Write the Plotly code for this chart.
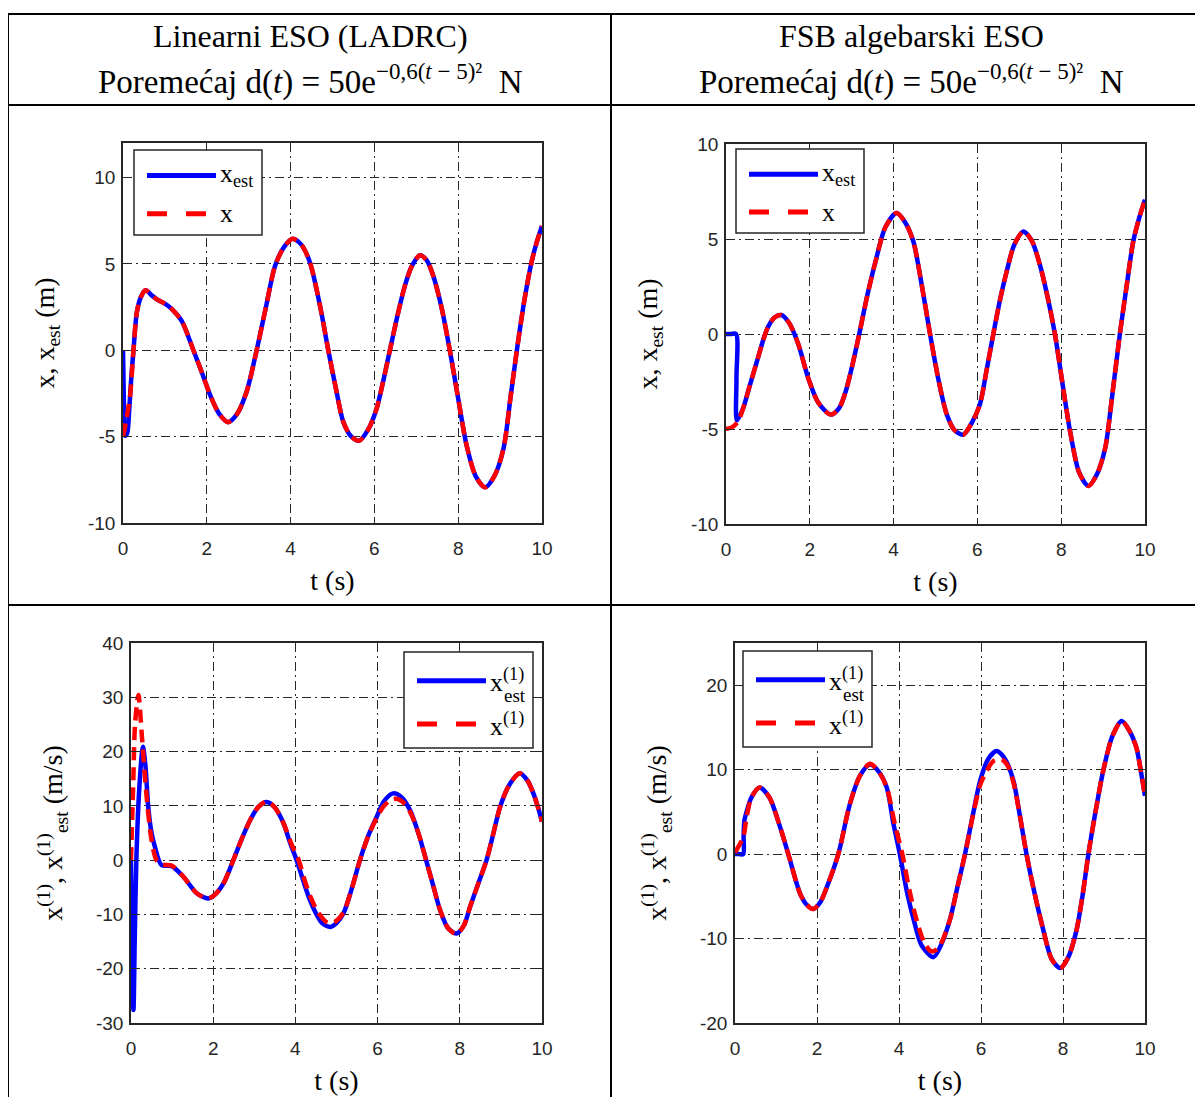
import plotly.graph_objects as go

W, H = 1203, 1097
OFF = 8  # the page body has an 8px margin; figure is placed at (8, 8)

# ---------------- data ----------------
# Top-left: LADRC position
t_tl = [0, 0.08, 0.17, 0.25, 0.33, 0.43, 0.54, 0.7, 0.84, 1.0, 1.16, 1.4, 1.68, 1.9, 2.08, 2.3,
        2.51, 2.72, 2.95, 3.19, 3.42, 3.63, 3.85, 4.05, 4.26, 4.46, 4.7, 4.9, 5.08, 5.26, 5.45,
        5.64, 5.85, 6.05, 6.2, 6.37, 6.55, 6.73, 6.9, 7.09, 7.25, 7.4, 7.6, 7.8, 8.0, 8.2, 8.42,
        8.64, 8.86, 9.08, 9.25, 9.4, 9.58, 9.75, 9.88, 10.0]
x_tl = [-5.0, -4.0, -2.6, 0.0, 2.2, 3.1, 3.47, 3.15, 2.9, 2.7, 2.4, 1.7, 0.0, -1.4, -2.6, -3.7,
        -4.16, -3.7, -2.4, 0.0, 2.6, 4.9, 6.0, 6.46, 6.1, 5.1, 2.6, 0.0, -2.2, -4.16, -5.0,
        -5.23, -4.6, -3.4, -1.9, 0.0, 2.0, 3.76, 4.9, 5.5, 5.2, 4.34, 2.5, 0.0, -2.8, -5.5, -7.3,
        -7.93, -7.3, -5.7, -2.7, 0.0, 2.9, 5.1, 6.3, 7.2]
t_tl_est_head = [0, 0.02, 0.05, 0.1, 0.15, 0.2]
x_tl_est_head = [0.0, -2.8, -4.95, -4.8, -3.4, -1.5]
t_tl_est = t_tl_est_head + t_tl[3:]
x_tl_est = x_tl_est_head + x_tl[3:]

# Top-right: FSB algebraic ESO position
t_tr = [0, 0.15, 0.29, 0.41, 0.53, 0.65, 0.77, 0.89, 1.0, 1.15, 1.32, 1.5, 1.72, 1.96, 2.2,
        2.5, 2.7, 2.86, 3.02, 3.18, 3.38, 3.59, 3.8, 4.07, 4.27, 4.47, 4.67, 4.87, 5.07, 5.27,
        5.45, 5.66, 5.86, 6.06, 6.22, 6.38, 6.54, 6.7, 6.88, 7.1, 7.3, 7.49, 7.67, 7.85, 8.03,
        8.21, 8.43, 8.65, 8.85, 9.05, 9.22, 9.4, 9.56, 9.72, 9.86, 10.0]
x_tr = [-5.0, -4.9, -4.6, -3.9, -3.0, -2.1, -1.2, -0.3, 0.35, 0.85, 1.0, 0.6, -0.5, -2.3, -3.6,
        -4.24, -3.9, -3.0, -1.6, 0.0, 2.1, 4.0, 5.6, 6.37, 5.9, 4.88, 2.6, 0.0, -2.4, -4.24,
        -5.05, -5.3, -4.7, -3.7, -1.9, 0.0, 1.8, 3.3, 4.7, 5.4, 4.9, 3.65, 2.0, 0.0, -2.6,
        -5.1, -7.3, -8.0, -7.4, -6.0, -3.2, 0.0, 2.5, 4.88, 6.1, 7.07]
t_tr_est_head = [0, 0.12, 0.24, 0.25, 0.26]
x_tr_est_head = [0.0, 0.0, 0.0, -2.3, -4.55]
t_tr_est = t_tr_est_head + t_tr[3:]
x_tr_est = x_tr_est_head + x_tr[3:]

# Bottom-left: LADRC velocity
t_bl = [0, 0.05, 0.1, 0.18, 0.26, 0.38, 0.5, 0.62, 0.75, 0.99, 1.28, 1.6, 1.88, 2.05, 2.25,
        2.49, 2.7, 2.9, 3.1, 3.3, 3.5, 3.71, 3.9, 4.08, 4.22, 4.38, 4.55, 4.78, 4.95, 5.17,
        5.37, 5.57, 5.78, 5.98, 6.14, 6.3, 6.45, 6.6, 6.79, 7.0, 7.18, 7.35, 7.52, 7.72, 7.92,
        8.1, 8.25, 8.45, 8.65, 8.82, 8.98, 9.2, 9.46, 9.65, 9.79, 9.9, 10.0]
v_bl = [0.0, 12.9, 25.2, 30.4, 23.3, 11.7, 3.7, 0.0, -0.8, -1.0, -3.1, -6.1, -7.05, -6.3, -4.3,
        0.0, 4.0, 7.4, 9.8, 10.8, 9.7, 6.8, 3.0, 0.0, -3.6, -7.0, -9.6, -11.5, -11.4, -9.6,
        -5.3, 0.0, 4.6, 7.8, 9.85, 11.0, 11.3, 10.8, 8.9, 4.8, 0.0, -4.6, -9.2, -12.6, -13.6,
        -12.0, -8.6, -4.3, 0.0, 5.0, 9.8, 13.8, 16.0, 14.6, 12.3, 9.8, 7.1]
t_bl_est = [0, 0.03, 0.06, 0.09, 0.13, 0.2, 0.29, 0.35, 0.42, 0.5, 0.58, 0.74, 0.99, 1.28, 1.6,
            1.88, 2.05, 2.25, 2.49, 2.7, 2.9, 3.1, 3.3, 3.5, 3.71, 3.87, 4.03, 4.2, 4.35, 4.5,
            4.65, 4.85, 5.0, 5.17, 5.37, 5.57, 5.78, 5.98, 6.15, 6.38, 6.58, 6.79, 7.0, 7.18,
            7.35, 7.52, 7.72, 7.92, 8.1, 8.25, 8.45, 8.65, 8.82, 8.98, 9.2, 9.46, 9.65, 9.79,
            9.9, 10.0]
v_bl_est = [0.0, -20.0, -27.6, -15.0, 0.0, 13.0, 20.9, 17.5, 9.8, 5.0, 2.5, -0.9, -1.1, -3.1,
            -6.1, -7.05, -6.3, -4.3, 0.0, 4.0, 7.4, 9.8, 10.7, 9.7, 6.8, 3.2, 0.0, -4.0, -7.3,
            -9.8, -11.6, -12.3, -11.6, -9.8, -5.3, 0.0, 4.6, 8.0, 10.8, 12.3, 11.6, 9.2, 4.8,
            0.0, -4.6, -9.2, -12.6, -13.5, -12.0, -8.6, -4.3, 0.0, 5.0, 9.8, 13.8, 16.0, 14.6,
            12.3, 9.8, 7.1]

# Bottom-right: FSB algebraic ESO velocity
t_br = [0, 0.2, 0.28, 0.4, 0.6, 0.84, 1.1, 1.3, 1.59, 1.75, 1.91, 2.08, 2.24, 2.52, 2.8, 3.05,
        3.29, 3.5, 3.7, 3.9, 4.08, 4.25, 4.4, 4.6, 4.78, 4.95, 5.24, 5.42, 5.61, 5.8, 5.98,
        6.14, 6.3, 6.5, 6.65, 6.79, 6.95, 7.11, 7.3, 7.52, 7.72, 7.93, 8.13, 8.33, 8.48, 8.62,
        8.8, 8.98, 9.2, 9.43, 9.62, 9.79, 9.9, 10.0]
v_br = [0.2, 2.0, 4.3, 6.7, 7.9, 6.7, 3.2, 0.0, -4.7, -6.0, -6.5, -5.7, -3.9, 0.0, 5.9, 9.3,
        10.7, 9.8, 7.9, 3.5, 0.0, -4.2, -7.3, -10.3, -11.5, -11.2, -7.8, -4.0, 0.0, 4.5, 8.2,
        9.85, 11.0, 11.2, 10.5, 8.5, 4.5, 0.0, -4.5, -9.0, -12.4, -13.5, -12.2, -9.0, -4.8, 0.0,
        5.2, 9.85, 13.9, 15.75, 14.6, 12.6, 9.8, 6.9]
t_br_est = [0, 0.1, 0.2, 0.21, 0.23, 0.3, 0.4, 0.6, 0.84, 1.1, 1.3, 1.59, 1.75, 1.91, 2.08,
            2.24, 2.52, 2.8, 3.05, 3.29, 3.5, 3.7, 3.86, 4.02, 4.2, 4.35, 4.55, 4.84, 5.04,
            5.24, 5.42, 5.61, 5.8, 5.98, 6.18, 6.38, 6.58, 6.79, 6.95, 7.11, 7.3, 7.52, 7.72,
            7.93, 8.13, 8.33, 8.48, 8.62, 8.8, 8.98, 9.2, 9.43, 9.62, 9.79, 9.9, 10.0]
v_br_est = [0.0, 0.0, 0.0, 2.0, 4.0, 5.3, 6.7, 7.9, 6.7, 3.2, 0.0, -4.7, -6.0, -6.5, -5.7,
            -3.9, 0.0, 5.9, 9.3, 10.6, 9.8, 7.9, 3.7, 0.0, -4.6, -7.6, -10.8, -12.2, -10.6,
            -7.8, -4.0, 0.0, 4.6, 8.7, 11.3, 12.2, 11.3, 8.7, 4.5, 0.0, -4.5, -9.0, -12.4,
            -13.5, -12.2, -9.0, -4.8, 0.0, 5.2, 9.85, 13.9, 15.75, 14.6, 12.6, 9.8, 6.9]

# Tick values / labels
x_tickvals = [0, 2, 4, 6, 8, 10]
y_tickvals_tl = [-10, -5, 0, 5, 10]
y_tickvals_tr = [-10, -5, 0, 5, 10]
y_tickvals_bl = [-30, -20, -10, 0, 10, 20, 30, 40]
y_tickvals_br = [-20, -10, 0, 10, 20]

# Text
header_titles = ["Linearni ESO (LADRC)", "FSB algebarski ESO"]
header_dist = ("Poremećaj d(<i>t</i>) = 50e<sup><span style='font-size:23px'>"
               "−0,6(<i>t</i> − 5)²</span></sup>  N")
x_title = "t (s)"
y_titles = ["x, x<sub>est</sub> (m)",
            "x<sup>(1)</sup>, x<sup>(1)</sup><sub>est</sub> (m/s)"]
# legend label: (main text, stacked subscript or None)
legend_labels = [(("x<sub>est</sub>", None), ("x", None)),
                 (("x<sup>(1)</sup>", "est"), ("x<sup>(1)</sup>", None))]

# ---------------- layout helpers ----------------
FW, FH = W - OFF, H - OFF


def PX(px):
    return (px - OFF) / FW


def PY(py):
    return 1 - (py - OFF) / FH


SERIF = "Liberation Serif"
SANS = "Liberation Sans"
BLUE = "#0000FF"
RED = "#FF0000"
AX = "#262626"

# panel pixel boxes: (x0, x1, y_top, y_bottom), y-range, ticks
panels = [
    dict(box=(123, 542, 143, 523), yr=[-10, 12], tv=y_tickvals_tl),
    dict(box=(726, 1145, 144, 524), yr=[-10, 10], tv=y_tickvals_tr),
    dict(box=(131, 542, 643, 1023), yr=[-30, 40], tv=y_tickvals_bl),
    dict(box=(735, 1145, 643, 1023), yr=[-20, 25], tv=y_tickvals_br),
]
series = [
    (t_tl_est, x_tl_est, t_tl, x_tl),
    (t_tr_est, x_tr_est, t_tr, x_tr),
    (t_bl_est, v_bl_est, t_bl, v_bl),
    (t_br_est, v_br_est, t_br, v_br),
]
# legend boxes in px: (x0, x1, y0, y1)
legend_boxes = [(134, 262, 150, 235), (736, 864, 149, 233),
                (404, 533, 652, 748), (743, 872, 651, 747)]

fig = go.Figure()
layout_axes = {}
shapes = []
annotations = []

for i, (p, s) in enumerate(zip(panels, series)):
    n = i + 1
    xa = "xaxis" if n == 1 else f"xaxis{n}"
    ya = "yaxis" if n == 1 else f"yaxis{n}"
    xr = "x" if n == 1 else f"x{n}"
    yr = "y" if n == 1 else f"y{n}"
    x0, x1, yt, yb = p["box"]
    common = dict(
        showline=True, linecolor=AX, linewidth=1.5, mirror="ticks",
        ticks="inside", ticklen=6, tickwidth=1.2, tickcolor=AX,
        showgrid=True, gridcolor="#262626", gridwidth=1, griddash="9px,4px,2px,4px",
        zeroline=False, tickfont=dict(family=SANS, size=19, color=AX),
        automargin=False,
    )
    layout_axes[xa] = dict(common, domain=[PX(x0), PX(x1)], range=[0, 10],
                           tickvals=x_tickvals, ticktext=[str(v) for v in x_tickvals],
                           anchor=yr, ticklabelstandoff=7,
                           title=dict(text=x_title, font=dict(family=SERIF, size=28, color="black"),
                                      standoff=13))
    layout_axes[ya] = dict(common, domain=[PY(yb), PY(yt)], range=p["yr"],
                           tickvals=p["tv"], ticktext=[str(v) for v in p["tv"]], anchor=xr,
                           ticklabelstandoff=2,
                           title=dict(text=y_titles[i // 2],
                                      font=dict(family=SERIF, size=28, color="black"),
                                      standoff=25))
    te, ve, tt, vt = s
    fig.add_trace(go.Scatter(x=te, y=ve, mode="lines", xaxis=xr, yaxis=yr, showlegend=False,
                             line=dict(color=BLUE, width=4.5, shape="spline", smoothing=0.8)))
    fig.add_trace(go.Scatter(x=tt, y=vt, mode="lines", xaxis=xr, yaxis=yr, showlegend=False,
                             line=dict(color=RED, width=4.5, dash="13px,7px",
                                       shape="spline", smoothing=0.8)))

    # legend (box, sample lines, labels)
    lx0, lx1, ly0, ly1 = legend_boxes[i]
    shapes.append(dict(type="rect", xref="paper", yref="paper", x0=PX(lx0), x1=PX(lx1),
                       y0=PY(ly1), y1=PY(ly0), fillcolor="white",
                       line=dict(color=AX, width=1.5), layer="above"))
    row1 = ly0 + (ly1 - ly0) * 0.30
    row2 = ly0 + (ly1 - ly0) * 0.75
    for row, col, dash, lab in ((row1, BLUE, "solid", legend_labels[i // 2][0]),
                                (row2, RED, "20px,19px", legend_labels[i // 2][1])):
        shapes.append(dict(type="line", xref="paper", yref="paper",
                           x0=PX(lx0 + 13), x1=PX(lx0 + 82), y0=PY(row), y1=PY(row),
                           line=dict(color=col, width=5, dash=dash), layer="above"))
        main, stacked = lab
        annotations.append(dict(xref="paper", yref="paper", x=PX(lx0 + 84), y=PY(row),
                                xanchor="left", yanchor="middle", showarrow=False, text=main,
                                font=dict(family=SERIF, size=26, color="black")))
        if stacked:
            annotations.append(dict(xref="paper", yref="paper", x=PX(lx0 + 98), y=PY(row + 15),
                                    xanchor="left", yanchor="middle", showarrow=False,
                                    text=stacked,
                                    font=dict(family=SERIF, size=19, color="black")))

# table grid lines
LW = 2
for (a, b, c, d) in [(8, 14, 1202, 14), (8, 105, 1202, 105), (8, 605, 1202, 605),
                     (8, 14, 8, 1097), (611, 14, 611, 1097), (1202, 14, 1202, 1097)]:
    shapes.append(dict(type="line", xref="paper", yref="paper", x0=PX(a), y0=PY(b),
                       x1=PX(c), y1=PY(d), line=dict(color="black", width=LW)))

# headers
for cx, title in zip([310, 911], header_titles):
    annotations.append(dict(xref="paper", yref="paper", x=PX(cx), y=PY(36), showarrow=False,
                            xanchor="center", yanchor="middle", text=title,
                            font=dict(family=SERIF, size=32, color="black")))
    annotations.append(dict(xref="paper", yref="paper", x=PX(cx), y=PY(80), showarrow=False,
                            xanchor="center", yanchor="middle", text=header_dist,
                            font=dict(family=SERIF, size=33, color="black")))

fig.update_layout(
    width=FW, height=FH, margin=dict(l=0, r=0, t=0, b=0),
    paper_bgcolor="white", plot_bgcolor="white",
    shapes=shapes, annotations=annotations, showlegend=False,
    **layout_axes,
)

fig.write_html("out.html")
